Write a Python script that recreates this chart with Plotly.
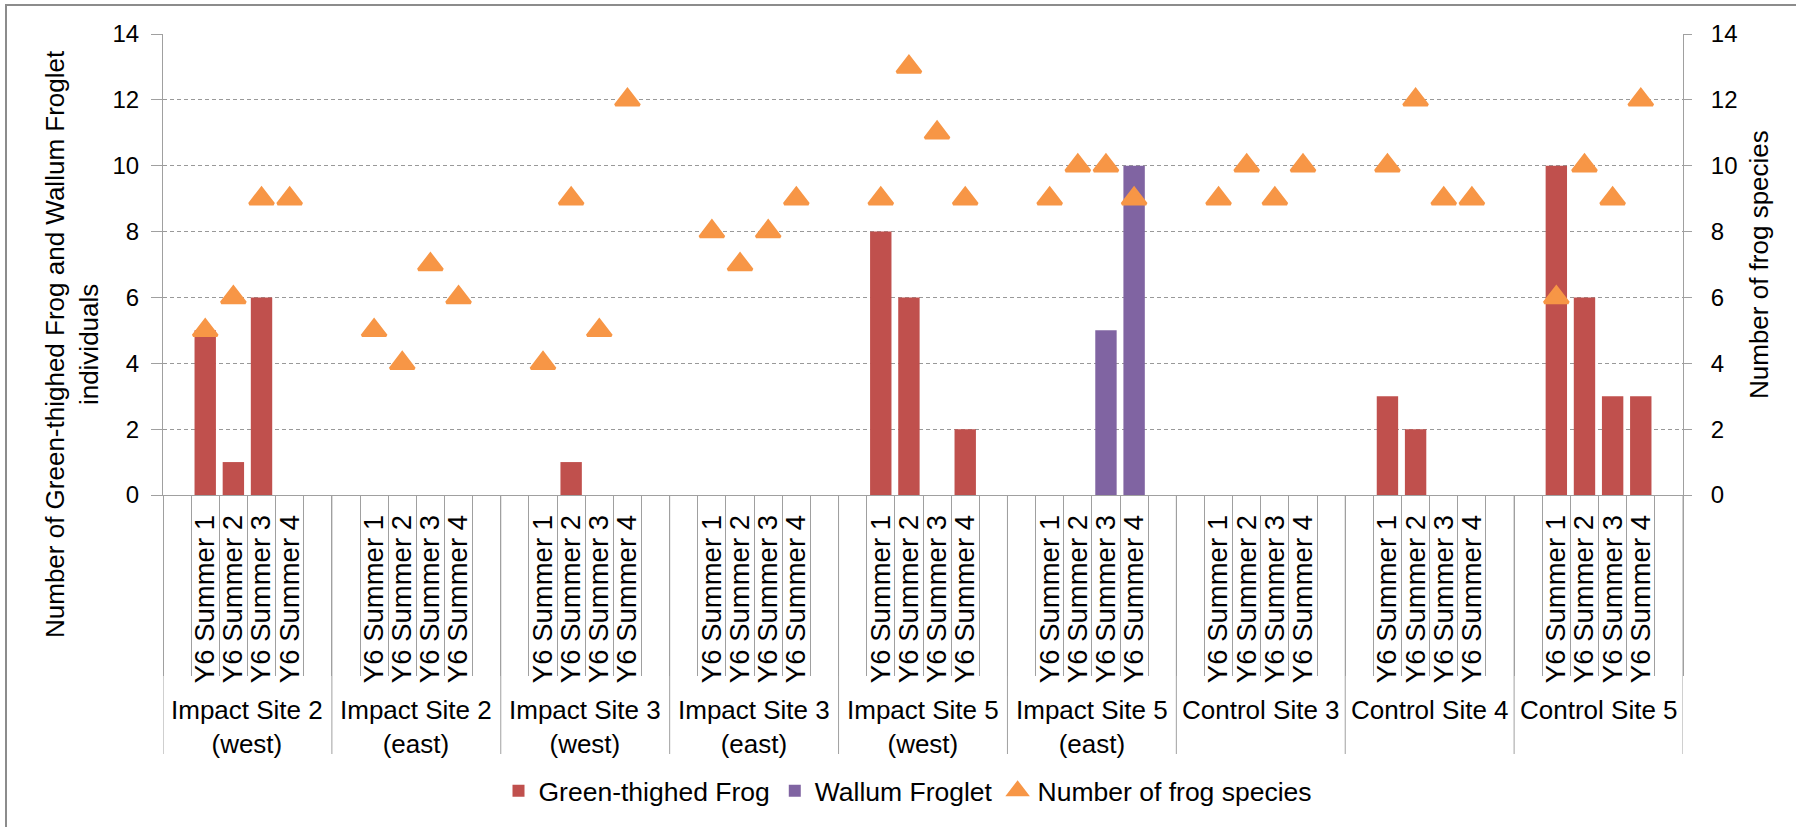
import plotly.graph_objects as go

# ---------------- data ----------------
groups = ["Impact Site 2<br>(west)", "Impact Site 2<br>(east)", "Impact Site 3<br>(west)",
          "Impact Site 3<br>(east)", "Impact Site 5<br>(west)", "Impact Site 5<br>(east)",
          "Control Site 3", "Control Site 4", "Control Site 5"]
surveys = ["Y6 Summer 1", "Y6 Summer 2", "Y6 Summer 3", "Y6 Summer 4"]

green_thighed = [
    [5, 1, 6, 0],
    [0, 0, 0, 0],
    [0, 1, 0, 0],
    [0, 0, 0, 0],
    [8, 6, 0, 2],
    [0, 0, 0, 0],
    [0, 0, 0, 0],
    [3, 2, 0, 0],
    [10, 6, 3, 3],
]
wallum = [
    [0, 0, 0, 0],
    [0, 0, 0, 0],
    [0, 0, 0, 0],
    [0, 0, 0, 0],
    [0, 0, 0, 0],
    [0, 0, 5, 10],
    [0, 0, 0, 0],
    [0, 0, 0, 0],
    [0, 0, 0, 0],
]
species = [
    [5, 6, 9, 9],
    [5, 4, 7, 6],
    [4, 9, 5, 12],
    [8, 7, 8, 9],
    [9, 13, 11, 9],
    [9, 10, 10, 9],
    [9, 10, 9, 10],
    [10, 12, 9, 9],
    [6, 10, 9, 12],
]

# ---------------- build category slots (blank slot either side of each group) ----------------
all_ids, tick_text = [], []
x_ids, gt_vals, wf_vals, sp_vals = [], [], [], []
for gi, g in enumerate(groups):
    all_ids.append(f"g{gi}_pre"); tick_text.append("")
    for si, s in enumerate(surveys):
        cid = f"g{gi}_s{si}"
        all_ids.append(cid); tick_text.append(s)
        x_ids.append(cid)
        gt_vals.append(green_thighed[gi][si])
        wf_vals.append(wallum[gi][si])
        sp_vals.append(species[gi][si])
    all_ids.append(f"g{gi}_post"); tick_text.append("")
slots_per_group = len(surveys) + 2

# ---------------- layout geometry (pixels) ----------------
W, H = 1796, 827
L, R, T, B = 163, 113, 34, 332
PW, PH = W - L - R, H - T - B
def px_x(p):
    return (p - L) / PW
def px_y(p):
    return (H - B - p) / PH

FONT = "Liberation Sans, Arial, sans-serif"
GRAY = "#A0A0A0"

fig = go.Figure()
fig.add_trace(go.Bar(x=x_ids, y=gt_vals, name="Green-thighed Frog",
                     marker=dict(color="#C0504D", line=dict(width=0)), width=0.76))
fig.add_trace(go.Bar(x=x_ids, y=wf_vals, name="Wallum Froglet",
                     marker=dict(color="#8064A2", line=dict(width=0)), width=0.76))
fig.add_trace(go.Scatter(x=x_ids, y=sp_vals, name="Number of frog species", mode="markers",
                         yaxis="y2",
                         marker=dict(symbol="triangle-up", size=21, color="#F79646",
                                     line=dict(color="#F79646", width=3))))

shapes = []
# group dividers
for gi in range(len(groups) + 1):
    xb = gi * slots_per_group - 0.5
    shapes.append(dict(type="line", xref="x", yref="paper", x0=xb, x1=xb,
                       y0=0, y1=px_y(754), line=dict(color=GRAY, width=1)))
# outer chart border
shapes.append(dict(type="rect", xref="paper", yref="paper",
                   x0=px_x(6), x1=px_x(W + 40), y0=px_y(H + 40), y1=px_y(5),
                   line=dict(color="#8C8C8C", width=2), fillcolor="rgba(0,0,0,0)"))

annotations = []
for gi, g in enumerate(groups):
    annotations.append(dict(text=g, x=gi * slots_per_group + (slots_per_group - 1) / 2,
                            xref="x", yref="paper", y=px_y(693), xanchor="center",
                            yanchor="top", showarrow=False,
                            font=dict(family=FONT, size=26, color="black")))
annotations.append(dict(text="Number of Green-thighed Frog and Wallum Froglet<br>individuals",
                        textangle=-90, xref="paper", yref="paper", x=px_x(72), y=px_y(344),
                        xanchor="center", yanchor="middle", showarrow=False,
                        font=dict(family=FONT, size=26, color="black")))
annotations.append(dict(text="Number of frog species",
                        textangle=-90, xref="paper", yref="paper", x=px_x(1759), y=px_y(265),
                        xanchor="center", yanchor="middle", showarrow=False,
                        font=dict(family=FONT, size=26, color="black")))

fig.update_layout(
    width=W, height=H,
    margin=dict(l=L, r=R, t=T, b=B, pad=0),
    paper_bgcolor="white", plot_bgcolor="white",
    font=dict(family=FONT, color="black"),
    barmode="overlay",
    showlegend=True,
    legend=dict(orientation="h", x=px_x(908), y=px_y(791), xanchor="center", yanchor="middle",
                font=dict(family=FONT, size=26.5, color="black"), bgcolor="rgba(0,0,0,0)"),
    xaxis=dict(type="category", categoryorder="array", categoryarray=all_ids,
               tickmode="array", tickvals=all_ids, ticktext=tick_text,
               range=[-0.5, len(all_ids) - 0.5],
               tickangle=-90, tickfont=dict(family=FONT, size=27.5, color="black"),
               ticks="outside", tickson="boundaries", ticklen=180, tickcolor=GRAY, tickwidth=1,
               ticklabelstandoff=8,
               showline=True, linecolor=GRAY, linewidth=1, showgrid=False, automargin=False,
               fixedrange=True),
    yaxis=dict(range=[0, 14], dtick=2, tick0=0, showgrid=True, gridcolor="#999999", griddash="4px,3px",
               gridwidth=1, zeroline=False, showline=True, linecolor=GRAY, linewidth=1,
               ticks="outside", ticklen=11, tickcolor=GRAY,
               tickfont=dict(family=FONT, size=24, color="black"),
               ticklabelstandoff=7, automargin=False),
    yaxis2=dict(range=[0, 14], dtick=2, tick0=0, overlaying="y", side="right",
                showgrid=False, zeroline=False, showline=True, linecolor=GRAY, linewidth=1,
                ticks="outside", ticklen=8, tickcolor=GRAY,
                tickfont=dict(family=FONT, size=24, color="black"),
                ticklabelstandoff=14, automargin=False),
    shapes=shapes,
    annotations=annotations,
)

fig.write_html("out.html", config={"displayModeBar": False},
               post_script="document.body.style.margin='0px';")
